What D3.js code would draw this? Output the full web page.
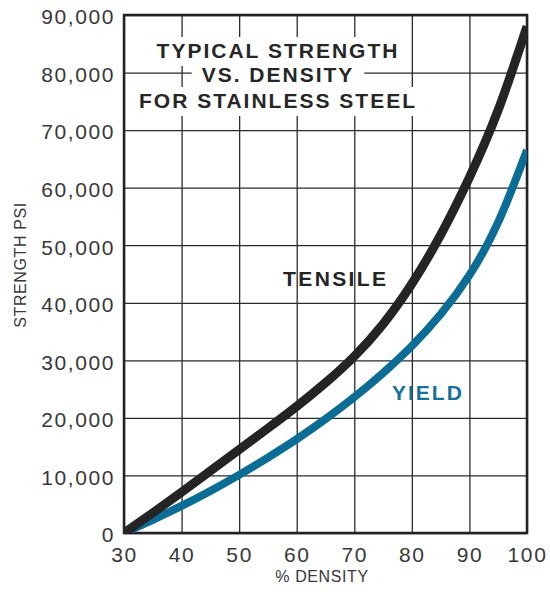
<!DOCTYPE html>
<html>
<head>
<meta charset="utf-8">
<script src="https://cdn.jsdelivr.net/npm/d3@7"></script>
<style>
  body { margin: 0; background: #fff; }
  text { font-family: "Liberation Sans", Arial, Helvetica, sans-serif; }
</style>
</head>
<body>
<div id="chart"></div>
<script>
// data
const density = [30, 35, 40, 45, 50, 55, 60, 65, 70, 75, 80, 85, 90, 95, 100];
const tensile = [0, 3500, 7100, 10800, 14500, 18200, 22000, 26100, 30700, 36300, 43300, 51800, 61800, 73500, 88000];
const yieldStr = [0, 2300, 4700, 7300, 10100, 13100, 16300, 19800, 23600, 27800, 32500, 38000, 44800, 54000, 66500];
const xTicks = [30, 40, 50, 60, 70, 80, 90, 100];
const yTicks = [0, 10000, 20000, 30000, 40000, 50000, 60000, 70000, 80000, 90000];
const titleLines = ["TYPICAL STRENGTH", "VS. DENSITY", "FOR STAINLESS STEEL"];

const W = 550, H = 595;
const m = {left: 124, right: 23, top: 15, bottom: 62};
const w = W - m.left - m.right, h = H - m.top - m.bottom;

var svg = d3.select("#chart").append("svg")
    .attr("width", W)
    .attr("height", H);

var g = svg.append("g").attr("transform", `translate(${m.left},${m.top})`);

let x = d3.scaleLinear().domain([30, 100]).range([0, w]);
let y = d3.scaleLinear().domain([0, 90000]).range([h, 0]);

// grid + tick labels
let xAxis = g.append("g")
    .attr("transform", `translate(0,${h})`)
    .call(d3.axisBottom(x).tickValues(xTicks).tickSize(-h).tickPadding(14).tickFormat(d3.format("d")));
let yAxis = g.append("g")
    .call(d3.axisLeft(y).tickValues(yTicks).tickSize(-w).tickPadding(9).tickFormat(d3.format(",")));

[xAxis, yAxis].forEach(a => {
    a.select(".domain").remove();
    a.selectAll(".tick line").attr("stroke", "#2b2b2b").attr("stroke-width", 1.3);
    a.selectAll(".tick text")
        .attr("fill", "#383838")
        .style("font-size", "21px")
        .style("letter-spacing", "1.6px");
});
yAxis.selectAll(".tick text").attr("dy", "0.42em");

// title with white knockout behind each line
let title = g.append("g");
let baselines = [58, 82, 108];
let boxes = title.append("g");
titleLines.forEach((t, i) => {
    let txt = title.append("text")
        .attr("x", 278 - m.left)
        .attr("y", baselines[i] - m.top)
        .attr("text-anchor", "middle")
        .attr("fill", "#262626")
        .style("font-size", "21px")
        .style("font-weight", "bold")
        .style("letter-spacing", "2px")
        .text(t);
    let bb = txt.node().getBBox();
    let padX = i == 1 ? 10 : 7;
    boxes.append("rect")
        .attr("x", bb.x - padX)
        .attr("y", baselines[i] - m.top - 21)
        .attr("width", bb.width + padX * 2)
        .attr("height", 29)
        .attr("fill", "#fff");
});

// frame
g.append("rect")
    .attr("width", w).attr("height", h)
    .attr("fill", "none")
    .attr("stroke", "#222")
    .attr("stroke-width", 2.5);

// curves
g.append("clipPath").attr("id", "clip")
    .append("rect").attr("width", w).attr("height", h);

let line = d3.line()
    .x((d, i) => x(density[i]))
    .y(d => y(d))
    .curve(d3.curveNatural);

let curves = g.append("g").attr("clip-path", "url(#clip)");
curves.append("path")
    .attr("d", line(yieldStr))
    .attr("fill", "none")
    .attr("stroke", "#0b6d96")
    .attr("stroke-width", 8);
curves.append("path")
    .attr("d", line(tensile))
    .attr("fill", "none")
    .attr("stroke", "#242424")
    .attr("stroke-width", 9);

// curve labels
g.append("text")
    .attr("x", 283 - m.left).attr("y", 286 - m.top)
    .attr("fill", "#242424")
    .style("font-size", "21px").style("font-weight", "bold").style("letter-spacing", "2.4px")
    .text("TENSILE");
g.append("text")
    .attr("x", 392 - m.left).attr("y", 400 - m.top)
    .attr("fill", "#16709a")
    .style("font-size", "21px").style("font-weight", "bold").style("letter-spacing", "2px")
    .text("YIELD");

// axis titles
svg.append("text")
    .attr("x", 322).attr("y", 582)
    .attr("text-anchor", "middle")
    .attr("fill", "#383838")
    .style("font-size", "16px")
    .style("letter-spacing", "0.6px")
    .text("% DENSITY");
svg.append("text")
    .attr("transform", "translate(26,265) rotate(-90)")
    .attr("text-anchor", "middle")
    .attr("fill", "#383838")
    .style("font-size", "16px")
    .style("letter-spacing", "0.6px")
    .text("STRENGTH PSI");
</script>
</body>
</html>
